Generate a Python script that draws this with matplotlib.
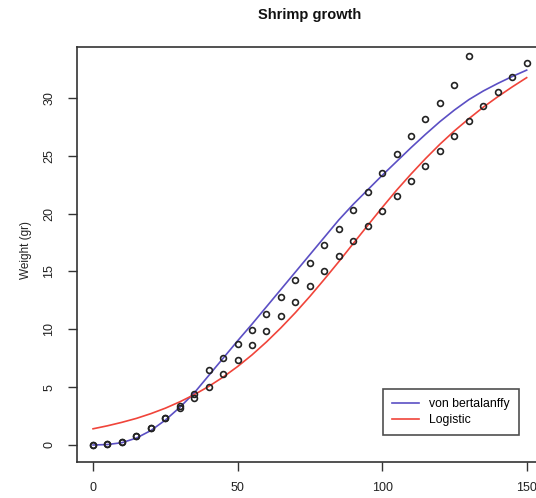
import matplotlib
matplotlib.use("Agg")
import matplotlib.pyplot as plt
from matplotlib.lines import Line2D

plt.rcParams['font.family'] = ['Liberation Sans', 'DejaVu Sans']

# Observed weights (gr) every 5 days
days_a = list(range(0, 131, 5))
weight_a = [0.0, 0.06, 0.24, 0.78, 1.5, 2.3, 3.37, 4.41, 6.48, 7.55, 8.73, 9.94,
            11.32, 12.77, 14.23, 15.72, 17.25, 18.7, 20.3, 21.9, 23.5, 25.15,
            26.7, 28.2, 29.6, 31.1, 33.6]
days_b = list(range(0, 151, 5))
weight_b = [0.0, 0.06, 0.24, 0.78, 1.5, 2.3, 3.17, 4.03, 5.04, 6.14, 7.32, 8.64,
            9.88, 11.12, 12.39, 13.72, 15.01, 16.34, 17.66, 18.96, 20.2, 21.5,
            22.8, 24.1, 25.4, 26.7, 28.0, 29.3, 30.5, 31.8, 33.0]

# Fitted growth curves
curve_days = list(range(0, 151, 5))
vb_fit = [0.0, 0.04, 0.2, 0.6, 1.25, 2.15, 3.25, 4.5, 6.0, 7.5, 9.0, 10.45,
          11.95, 13.45, 14.95, 16.45, 17.95, 19.45, 20.8, 22.05, 23.3, 24.5,
          25.7, 26.85, 27.95, 28.95, 29.85, 30.6, 31.25, 31.85, 32.4]
logistic_fit = [1.40, 1.66, 1.96, 2.30, 2.71, 3.18, 3.73, 4.35, 5.06, 5.87, 6.78,
                7.79, 8.91, 10.13, 11.44, 12.84, 14.32, 15.84, 17.41, 18.97,
                20.52, 22.02, 23.42, 24.75, 26.0, 27.15, 28.2, 29.2, 30.1,
                30.95, 31.75]

x_ticks = [0, 50, 100, 150]
y_ticks = [0, 5, 10, 15, 20, 25, 30]
legend_labels = ["von bertalanffy", "Logistic"]

W, H = 536, 498
fig = plt.figure(figsize=(W / 100, H / 100), dpi=100)
ax = fig.add_axes([77 / W, (H - 462) / H, 467 / W, 415 / H])

blue = "#5b4fc4"
red = "#f0443a"

ax.plot(curve_days, vb_fit, color=blue, lw=1.2, zorder=2)
ax.plot(curve_days, logistic_fit, color=red, lw=1.2, zorder=2)
for d, w in ((days_a, weight_a), (days_b, weight_b)):
    ax.plot(d, w, linestyle='none', marker='o', markersize=4.2,
            markerfacecolor='none', markeredgecolor='#222222',
            markeredgewidth=1.2, zorder=3)

ax.set_xlim(-5.55, 156)
ax.set_ylim(-1.47, 34.4)
ax.set_xticks(x_ticks)
ax.set_yticks(y_ticks)
ax.set_xticklabels([str(v) for v in x_ticks])
ax.set_yticklabels([str(v) for v in y_ticks], rotation=90, va='center')
ax.tick_params(axis='both', direction='out', length=6.5, width=1.0,
               color='#333333', labelsize=9, labelcolor='#222222')
ax.tick_params(axis='x', pad=8)
ax.tick_params(axis='y', pad=9)
for s in ax.spines.values():
    s.set_color('#333333')
    s.set_linewidth(1.2)

fig.text(310 / W, 1 - 15 / H, "Shrimp growth", ha='center', va='center',
         fontsize=10.5, fontweight='bold', color='#111111')
fig.text(26 / W, 1 - 250 / H, "Weight (gr)", ha='center', va='center',
         rotation=90, fontsize=8.5, color='#222222')

handles = [Line2D([], [], color=blue, lw=1.2), Line2D([], [], color=red, lw=1.2)]
leg = ax.legend(handles, legend_labels, loc='lower left',
                bbox_to_anchor=((383 - 77) / 467, (462 - 435) / 415),
                fontsize=8.8, frameon=True, fancybox=False, handlelength=2.2,
                handletextpad=0.8, borderpad=0.75, labelspacing=0.3,
                borderaxespad=0)
leg.get_frame().set_edgecolor('#222222')
leg.get_frame().set_linewidth(1.2)

fig.savefig("out.png", dpi=100)
